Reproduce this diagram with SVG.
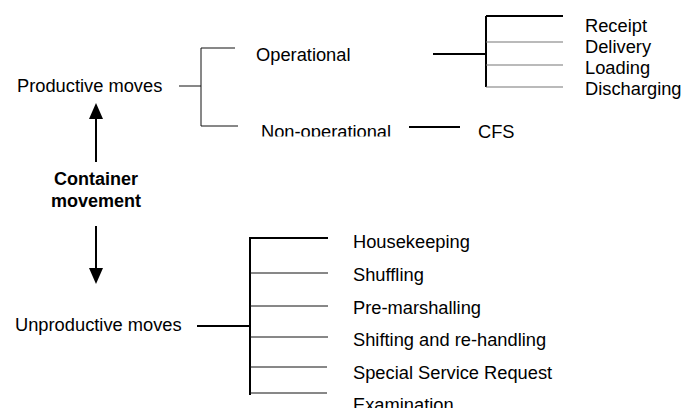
<svg xmlns="http://www.w3.org/2000/svg" width="683" height="408" viewBox="0 0 683 408">
<style>
  text { font-family: "Liberation Sans", Arial, sans-serif; font-size: 18.3px; fill: #000; }
  .b { font-weight: bold; text-anchor: middle; font-size: 18px; }
  .thin { stroke: #111; stroke-width: 1; fill: none; }
  .gray { stroke: #777; stroke-width: 1.2; fill: none; }
  .thick { stroke: #000; stroke-width: 2; fill: none; }
  .head { fill: #000; }
</style>
<defs>
  <clipPath id="clipNonOp"><rect x="0" y="0" width="683" height="136.5"/></clipPath>
</defs>
<rect width="683" height="408" fill="#fff"/>
<g id="connectors">
  <line class="thin" x1="179" y1="86" x2="201" y2="86"/>
  <line class="thin" x1="201" y1="48" x2="201" y2="126"/>
  <line class="thin" x1="201" y1="48" x2="235" y2="48"/>
  <line class="thin" x1="201" y1="126" x2="238" y2="126"/>
  <line class="thick" x1="433" y1="54" x2="486" y2="54"/>
  <line class="thick" x1="486" y1="16" x2="486" y2="87"/>
  <line class="thick" x1="486" y1="16" x2="563" y2="16"/>
  <line class="gray" x1="486" y1="42" x2="563" y2="42"/>
  <line class="gray" x1="486" y1="65" x2="563" y2="65"/>
  <line class="gray" x1="486" y1="87" x2="563" y2="87"/>
  <line class="thick" x1="409" y1="127" x2="460" y2="127"/>
  <line class="thick" x1="96" y1="117" x2="96" y2="162"/>
  <polygon class="head" points="96,103 89,119 103,119"/>
  <line class="thick" x1="96" y1="226" x2="96" y2="270"/>
  <polygon class="head" points="96,284 89,268 103,268"/>
  <line class="thick" x1="197" y1="326" x2="250" y2="326"/>
  <line class="thick" x1="250" y1="237" x2="250" y2="395"/>
  <line class="thick" x1="250" y1="238" x2="328" y2="238"/>
  <line class="thin" x1="250" y1="273" x2="328" y2="273"/>
  <line class="thin" x1="250" y1="306" x2="328" y2="306"/>
  <line class="thin" x1="250" y1="337" x2="328" y2="337"/>
  <line class="thin" x1="250" y1="367" x2="327" y2="367"/>
  <line class="thin" x1="250" y1="393" x2="327" y2="393"/>
</g>
<g id="productive"><text x="17" y="92">Productive moves</text></g>
<g id="operational"><text x="256" y="61">Operational</text></g>
<g id="nonoperational"><text x="261" y="138" clip-path="url(#clipNonOp)">Non-operational</text></g>
<g id="cfs"><text x="478" y="138">CFS</text></g>
<g id="receipt"><text x="585" y="32">Receipt</text></g>
<g id="delivery"><text x="585" y="53">Delivery</text></g>
<g id="loading"><text x="585" y="74">Loading</text></g>
<g id="discharging"><text x="585" y="95">Discharging</text></g>
<g id="container"><text class="b" x="96" y="185">Container</text><text class="b" x="96" y="207">movement</text></g>
<g id="unproductive"><text x="15" y="331">Unproductive moves</text></g>
<g id="housekeeping"><text x="353" y="248">Housekeeping</text></g>
<g id="shuffling"><text x="353" y="281">Shuffling</text></g>
<g id="premarshalling"><text x="353" y="314">Pre-marshalling</text></g>
<g id="shifting"><text x="353" y="346">Shifting and re-handling</text></g>
<g id="special"><text x="353" y="379">Special Service Request</text></g>
<g id="examination"><text x="353" y="411">Examination</text></g>
</svg>
